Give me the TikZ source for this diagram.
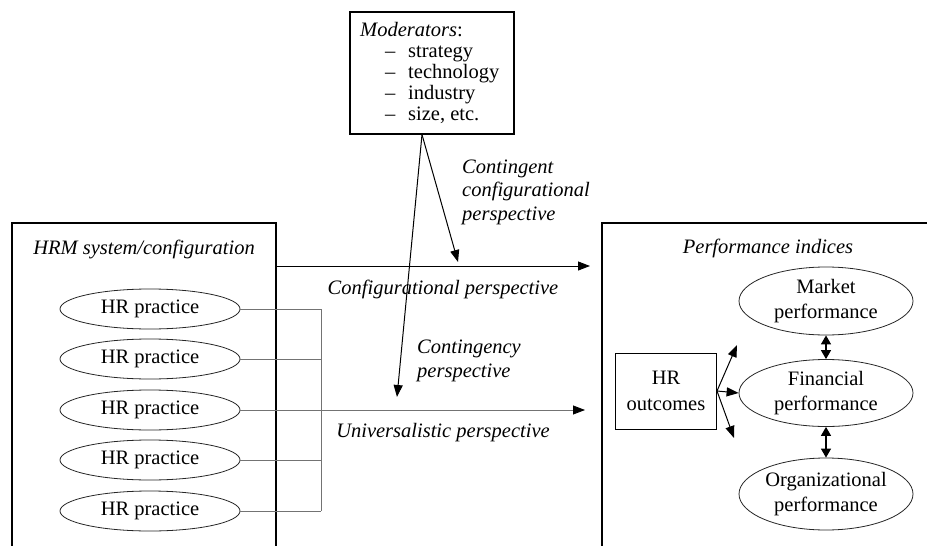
\documentclass[tikz,border=0pt]{standalone}
\usepackage{fontspec}
\setmainfont{Liberation Serif}
\usetikzlibrary{shapes.geometric,arrows.meta}

\begin{document}
\begin{tikzpicture}[x=1pt,y=-1pt,
  every node/.style={font=\fontsize{20.5}{25}\selectfont},
  box/.style={draw, line width=1.2pt, rectangle, inner sep=0},
  oval/.style={draw=black!85, ellipse, line width=0.8pt, inner sep=0, align=center},
  txt/.style={inner sep=0, anchor=base west},
  lbl/.style={inner sep=0, anchor=base west, font=\fontsize{20.5}{24}\selectfont\itshape},
  arr/.style={line width=1pt, -{Triangle[length=12pt,width=9pt]}},
  dbl/.style={line width=1.4pt, {Triangle[length=9pt,width=10pt]}-{Triangle[length=9pt,width=10pt]}},
  link/.style={draw=black!55, line width=0.8pt}]

\useasboundingbox (0,0) rectangle (927,546);

% moderators box
\node[box, minimum width=164pt, minimum height=122pt] (mod) at (432,73) {};
\node[lbl] (modT) at (360,36) {Moderators\upshape:};
\foreach \t [count=\i] in {strategy, technology, industry, {size, etc.}} {
  \node[txt] (dash\i) at (385,36+21*\i) {–};
  \node[txt] (item\i) at (408,36+21*\i) {\t};
}

% HRM system box with its practices
\node[box, minimum width=264pt, minimum height=360pt] (hrm) at (144,403) {};
\node[lbl, anchor=base] (hrmT) at (144,254) {HRM system/configuration};
\foreach \y [count=\i] in {309,359,410,460,511}
  \node[oval, minimum width=180pt, minimum height=40pt] (p\i) at (150,\y) {HR practice};

\coordinate (bus) at (321,0);
\foreach \i in {1,2,4,5}
  \draw[link] (p\i.east) -- (p\i.east -| bus);
\draw[link] (p1.east -| bus) -- (p5.east -| bus);

% performance box
\node[box, minimum width=400pt, minimum height=360pt] (perf) at (802,403) {};
\node[lbl, anchor=base] (perfT) at (768,253) {Performance indices};
\node[oval, minimum width=174pt, minimum height=68pt] (mkt) at (826,301) {Market\\performance};
\node[oval, minimum width=174pt, minimum height=67pt] (fin) at (826,393) {Financial\\performance};
\node[oval, minimum width=174pt, minimum height=72pt] (org) at (826,494) {Organizational\\performance};
\node[box, line width=1pt, minimum width=101pt, minimum height=76pt, align=center,
      font=\fontsize{20.5}{26}\selectfont] (hro) at (666,391) {HR\\outcomes};

\coordinate (hu) at (737,345);
\coordinate (hd) at (734,438);
\draw[arr] (hro.east) -- (hu);
\draw[arr] (hro.east) -- (fin.west);
\draw[arr] (hro.east) -- (hd);
\draw[dbl] (mkt.south) -- (fin.north);
\draw[dbl] (fin.south) -- (org.north);

% perspectives
\coordinate (cEnd) at (590,266);
\draw[arr] (hrm.east |- cEnd) -- (cEnd);
\coordinate (uEnd) at (585,410);
\draw[link, -{Triangle[length=12pt,width=9pt,color=black]}] (p3.east) -- (uEnd);

\coordinate (ccTip) at (458,262);
\coordinate (ctTip) at (397,397);
\draw[arr] ([xshift=-10pt]mod.south) -- (ccTip);
\draw[arr] ([xshift=-10pt]mod.south) -- (ctTip);

\node[lbl] (cc1) at (462,173) {Contingent};
\node[lbl] (cc2) at (462,196) {configurational};
\node[lbl] (cc3) at (462,220) {perspective};
\node[lbl, anchor=base] (confL) at (443,294) {Configurational perspective};
\node[lbl] (ct1) at (417,353) {Contingency};
\node[lbl] (ct2) at (417,377) {perspective};
\node[lbl, anchor=base] (uniL) at (443,437) {Universalistic perspective};
\end{tikzpicture}
\end{document}
